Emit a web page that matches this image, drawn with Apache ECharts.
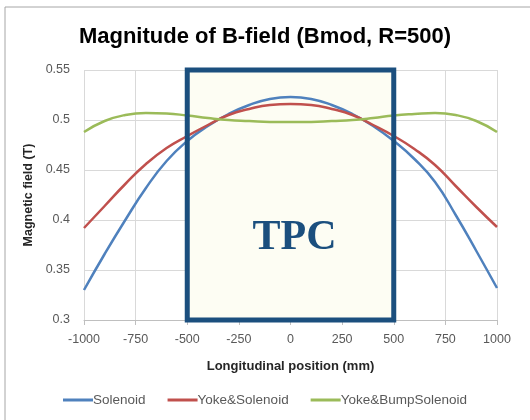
<!DOCTYPE html>
<html>
<head>
<meta charset="utf-8">
<script src="https://cdn.jsdelivr.net/npm/echarts@6/dist/echarts.min.js"></script>
<style>
    html, body { margin: 0; padding: 0; background: #fff; }
    #chart { width: 530px; height: 420px; }
</style>
</head>
<body>
<div id="chart"></div>
<script>
// 纵向位置 (mm)
const positions = [-1000, -900, -800, -700, -600, -500, -400, -300, -200, -100, 0,
    100, 200, 300, 400, 500, 600, 700, 800, 900, 1000]
// 磁场强度 (T)
const solenoid = [0.330, 0.366, 0.400, 0.432, 0.459, 0.479, 0.494, 0.506, 0.515, 0.521, 0.523,
    0.521, 0.515, 0.506, 0.494, 0.479, 0.461, 0.438, 0.405, 0.369, 0.332]
const yokeSolenoid = [0.392, 0.414, 0.436, 0.456, 0.472, 0.484, 0.495, 0.505, 0.511, 0.515, 0.516,
    0.515, 0.511, 0.505, 0.495, 0.484, 0.471, 0.455, 0.434, 0.413, 0.393]
const yokeBump = [0.488, 0.499, 0.505, 0.507, 0.5065, 0.5045, 0.502, 0.500, 0.499, 0.498, 0.498,
    0.498, 0.499, 0.500, 0.502, 0.5045, 0.506, 0.507, 0.505, 0.499, 0.488]
const seriesNames = ['Solenoid', 'Yoke&Solenoid', 'Yoke&BumpSolenoid']
const tpcRange = [-500, 500]

const pair = arr => positions.map((x, i) => [x, arr[i]])
const font = 'Liberation Sans'
const navy = '#1b4f7e'

const mycharts = echarts.init(document.getElementById('chart'))
mycharts.setOption({
    animation: false,
    textStyle: { fontFamily: font },
    title: {
        text: 'Magnitude of B-field (Bmod, R=500)',
        left: 'center',
        top: 21,
        textStyle: { fontSize: 22, fontWeight: 'bold', color: '#000', fontFamily: font }
    },
    // 外框
    graphic: [{
        type: 'rect',
        shape: { x: 5, y: 7, width: 540, height: 430 },
        style: { fill: 'none', stroke: '#a6a6a6', lineWidth: 1 },
        silent: true
    }],
    grid: { left: 84, right: 33, top: 70, bottom: 100 },
    xAxis: {
        type: 'value',
        min: -1000,
        max: 1000,
        interval: 250,
        name: 'Longitudinal position (mm)',
        nameLocation: 'middle',
        nameGap: 40,
        nameTextStyle: { fontSize: 13, fontWeight: 'bold', color: '#262626' },
        axisLine: { show: true, onZero: false, lineStyle: { color: '#bfbfbf' } },
        axisTick: { show: true, length: 5, lineStyle: { color: '#bfbfbf' } },
        axisLabel: { fontSize: 12.5, color: '#595959', margin: 13, formatter: v => String(v) },
        splitLine: { show: true, lineStyle: { color: '#d9d9d9' } }
    },
    yAxis: {
        type: 'value',
        min: 0.3,
        max: 0.55,
        interval: 0.05,
        name: 'Magnetic field (T)',
        nameLocation: 'middle',
        nameGap: 45,
        nameTextStyle: { fontSize: 12.5, fontWeight: 'bold', color: '#262626' },
        axisLine: { show: false },
        axisTick: { show: false },
        axisLabel: {
            fontSize: 12.5, color: '#595959', margin: 14,
            formatter: v => String(parseFloat(v.toFixed(2)))
        },
        splitLine: { show: true, lineStyle: { color: '#d9d9d9' } }
    },
    legend: {
        data: seriesNames,
        bottom: 8,
        left: 'center',
        icon: 'rect',
        itemWidth: 30,
        itemHeight: 3,
        itemGap: 22,
        textStyle: { fontSize: 13.5, color: '#595959', padding: [0, 0, 0, -5] }
    },
    series: [
        {
            // TPC 区域底色
            type: 'line',
            name: 'tpcFill',
            data: [],
            z: 1,
            markArea: {
                silent: true,
                itemStyle: { color: '#fdfdf3' },
                data: [[{ xAxis: tpcRange[0], yAxis: 0.3 }, { xAxis: tpcRange[1], yAxis: 0.552 }]]
            }
        },
        {
            type: 'line', name: seriesNames[0], data: pair(solenoid), smooth: true,
            showSymbol: false, z: 2, lineStyle: { width: 2.5, color: '#4f81bd' }, itemStyle: { color: '#4f81bd' }
        },
        {
            type: 'line', name: seriesNames[1], data: pair(yokeSolenoid), smooth: true,
            showSymbol: false, z: 2, lineStyle: { width: 2.5, color: '#c0504d' }, itemStyle: { color: '#c0504d' }
        },
        {
            type: 'line', name: seriesNames[2], data: pair(yokeBump), smooth: true,
            showSymbol: false, z: 2, lineStyle: { width: 2.5, color: '#9bbb59' }, itemStyle: { color: '#9bbb59' }
        },
        {
            // TPC 边框和文字
            type: 'line',
            name: 'tpcBorder',
            data: [],
            z: 5,
            markArea: {
                silent: true,
                z: 5,
                itemStyle: { color: 'rgba(0,0,0,0)', borderColor: navy, borderWidth: 5 },
                label: {
                    show: true,
                    position: 'inside',
                    offset: [4, 43],
                    formatter: 'TPC',
                    fontFamily: 'Liberation Serif',
                    fontWeight: 'bold',
                    fontSize: 42,
                    color: navy
                },
                data: [[{ xAxis: tpcRange[0], yAxis: 0.3 }, { xAxis: tpcRange[1], yAxis: 0.552 }]]
            }
        }
    ]
})
</script>
</body>
</html>
